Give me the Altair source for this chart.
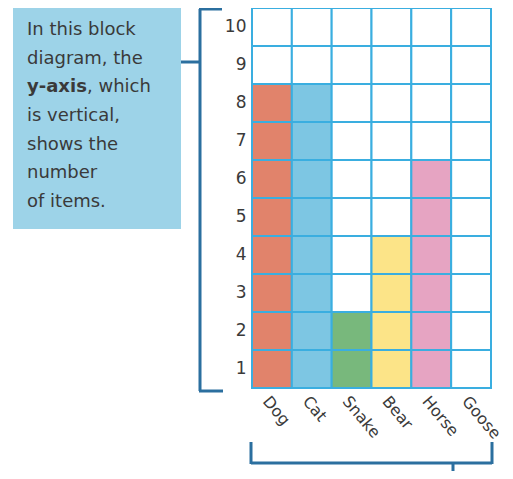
import altair as alt
import pandas as pd

# ---- data ----
animals = ["Dog", "Cat", "Snake", "Bear", "Horse", "Goose"]
counts = [8, 8, 2, 4, 6, 0]
fill_colors = ["#e1836b", "#7dc6e3", "#78b87c", "#fce488", "#e6a4c2"]
levels = list(range(1, 11))
note_lines = ["In this block", "diagram, the", "", "is vertical,", "shows the", "number", "of items."]
note_bold = "y-axis"
note_rest = ", which"

GRID = "#3aaee0"
DARK = "#2b6f9f"
TEXT = "#3a3a3a"
FONT = "DejaVu Sans"

rows = []
for a, c in zip(animals, counts):
    for lv in levels:
        rows.append({"animal": a, "level": lv, "fill": a if lv <= c else "empty"})
cells = pd.DataFrame(rows)

color_domain = animals[:5] + ["empty"]
color_range = fill_colors + ["#ffffff"]

grid = alt.Chart(cells).mark_rect(stroke=GRID, strokeWidth=2).encode(
    x=alt.X("animal:N", sort=animals, title=None,
            scale=alt.Scale(paddingInner=0, paddingOuter=0),
            axis=alt.Axis(labelAngle=50, labelAlign="left", labelBaseline="middle",
                          labelOffset=-6, labelPadding=10, domain=False, ticks=False,
                          labelFontSize=16, labelColor=TEXT, labelFont=FONT)),
    y=alt.Y("level:O", sort="descending", title=None,
            scale=alt.Scale(paddingInner=0, paddingOuter=0),
            axis=alt.Axis(labelAngle=0, domain=False, ticks=False, labelPadding=6,
                          labelFontSize=17, labelColor=TEXT, labelFont=FONT)),
    color=alt.Color("fill:N", scale=alt.Scale(domain=color_domain, range=color_range), legend=None),
)

one = alt.Data(values=[{"k": 1}])

box = alt.Chart(one).mark_rect(color="#9dd3e8").encode(
    x=alt.value(-239), x2=alt.value(-71), y=alt.value(0), y2=alt.value(221)
)

line_y = [22, 51, 79, 108, 137, 165, 194]
text_layers = []
for t, yy in zip(note_lines, line_y):
    if t:
        text_layers.append(
            alt.Chart(one).mark_text(align="left", baseline="middle", fontSize=18,
                                     font=FONT, color=TEXT, text=t)
            .encode(x=alt.value(-225), y=alt.value(yy))
        )
text_layers.append(
    alt.Chart(one).mark_text(align="left", baseline="middle", fontSize=18, font=FONT,
                             fontWeight="bold", color=TEXT, text=note_bold)
    .encode(x=alt.value(-225), y=alt.value(line_y[2]))
)
text_layers.append(
    alt.Chart(one).mark_text(align="left", baseline="middle", fontSize=18, font=FONT,
                             color=TEXT, text=note_rest)
    .encode(x=alt.value(-165), y=alt.value(line_y[2]))
)

def hrule(x1, x2, y):
    return alt.Chart(one).mark_rule(color=DARK, strokeWidth=3).encode(
        x=alt.value(x1), x2=alt.value(x2), y=alt.value(y))

def vrule(x, y1, y2):
    return alt.Chart(one).mark_rule(color=DARK, strokeWidth=3).encode(
        x=alt.value(x), y=alt.value(y1), y2=alt.value(y2))

brackets = [
    vrule(-52, 1, 383),
    hrule(-53, -30, 1),
    hrule(-53, -29, 383),
    hrule(-71, -52, 54),
    hrule(-1, 240, 455),
    vrule(-1, 434, 456),
    vrule(240, 434, 456),
    vrule(201, 455, 470),
]

chart = alt.layer(box, *text_layers, *brackets, grid).properties(
    width=239, height=380,
    padding={"left": 244, "top": 0, "right": 14, "bottom": 83},
    autosize=alt.AutoSizeParams(type="none"),
).configure_view(stroke=None)

chart.save("out.html", embed_options={"renderer": "svg", "actions": False})
